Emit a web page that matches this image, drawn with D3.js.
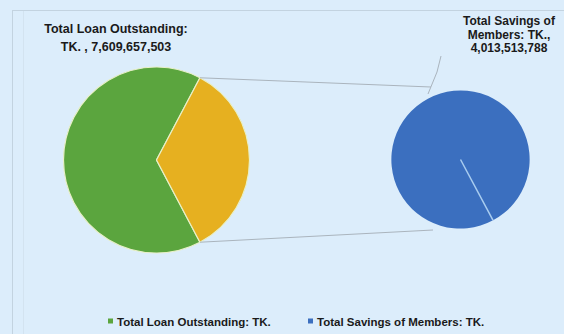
<!DOCTYPE html>
<html>
<head>
<meta charset="utf-8">
<script src="https://cdn.jsdelivr.net/npm/d3@7"></script>
<style>
  body { margin: 0; background: #dcedfb; }
  svg { display: block; }
</style>
</head>
<body>
<div id="chart"></div>
<script>
// data
const categories = [ 'Total Loan Outstanding: TK.', 'Total Savings of Members: TK.' ];
const values = [ 7609657503, 4013513788 ];
const loanLabel = [ 'Total Loan Outstanding:', 'TK. , 7,609,657,503' ];
const savingsLabel = [ 'Total Savings of', 'Members: TK.,', '4,013,513,788' ];
const colors = [ '#5ba53e', '#e6b020', '#3b6fbf' ];

const width = 564, height = 334;
const font = 'Liberation Sans, Arial, sans-serif';

const svg = d3.select( '#chart' ).append( 'svg' )
    .attr( 'width', width )
    .attr( 'height', height );

svg.append( 'rect' )
    .attr( 'width', width ).attr( 'height', height )
    .attr( 'fill', '#dcedfb' );

// chart frame edges
svg.append( 'line' ).attr( 'x1', 12 ).attr( 'y1', 10.5 ).attr( 'x2', width ).attr( 'y2', 10.5 )
    .attr( 'stroke', '#c3d3e0' );
svg.append( 'line' ).attr( 'x1', 12.5 ).attr( 'y1', 10 ).attr( 'x2', 12.5 ).attr( 'y2', height )
    .attr( 'stroke', '#c3d3e0' );
svg.append( 'line' ).attr( 'x1', 23.5 ).attr( 'y1', 11 ).attr( 'x2', 23.5 ).attr( 'y2', height )
    .attr( 'stroke', '#d3e3f0' );

// left pie: loan vs savings, savings slice centred on the right
const total = d3.sum( values );
const savAngle = 2 * Math.PI * values[1] / total;
const leftC = { x: 156.5, y: 160 }, leftR = 93;
const pieLeft = d3.pie().sort( null )
    .startAngle( Math.PI / 2 + savAngle / 2 )
    .endAngle( Math.PI / 2 + savAngle / 2 + 2 * Math.PI );
const leftArcs = pieLeft( values );
const arcLeft = d3.arc().innerRadius( 0 ).outerRadius( leftR );

const gLeft = svg.append( 'g' ).attr( 'transform', 'translate(' + leftC.x + ',' + leftC.y + ')' );
gLeft.selectAll( 'path' )
  .data( leftArcs )
  .enter().append( 'path' )
    .attr( 'd', arcLeft )
    .attr( 'fill', function( d, i ) { return colors[i]; } )
    .attr( 'stroke', '#e8f0c8' )
    .attr( 'stroke-width', 1.2 );

// right pie: savings alone
const rightC = { x: 460.5, y: 159.5 }, rightR = 69;
const pieRight = d3.pie().sort( null ).startAngle( 2.65 ).endAngle( 2.65 + 2 * Math.PI );
const rightArcs = pieRight( [ values[1] ] );
const arcRight = d3.arc().innerRadius( 0 ).outerRadius( rightR );
const gRight = svg.append( 'g' ).attr( 'transform', 'translate(' + rightC.x + ',' + rightC.y + ')' );
gRight.selectAll( 'path' )
  .data( rightArcs )
  .enter().append( 'path' )
    .attr( 'd', arcRight )
    .attr( 'fill', colors[2] );
gRight.selectAll( 'line.sep' )
  .data( rightArcs )
  .enter().append( 'line' )
    .attr( 'class', 'sep' )
    .attr( 'x1', 0 ).attr( 'y1', 0 )
    .attr( 'x2', function( d ) { return rightR * Math.sin( d.startAngle ); } )
    .attr( 'y2', function( d ) { return -rightR * Math.cos( d.startAngle ); } )
    .attr( 'stroke', '#a9cdf0' )
    .attr( 'stroke-width', 1.5 );

// connector lines between the pies
function polar( c, r, a ) { return [ c.x + r * Math.sin( a ), c.y - r * Math.cos( a ) ]; }
const sav = leftArcs[1];
const conn = [
  [ polar( leftC, leftR, sav.startAngle ), [ 431, 87 ] ],
  [ polar( leftC, leftR, sav.endAngle ), [ 433, 230 ] ]
];
svg.selectAll( 'line.conn' )
  .data( conn )
  .enter().append( 'line' )
    .attr( 'class', 'conn' )
    .attr( 'x1', function( d ) { return d[0][0]; } )
    .attr( 'y1', function( d ) { return d[0][1]; } )
    .attr( 'x2', function( d ) { return d[1][0]; } )
    .attr( 'y2', function( d ) { return d[1][1]; } )
    .attr( 'stroke', '#aab4bd' )
    .attr( 'stroke-width', 1 );

// leader for the savings label
svg.append( 'path' )
    .attr( 'd', 'M428,94 L437,72 L441,56' )
    .attr( 'fill', 'none' )
    .attr( 'stroke', '#aab4bd' );

// data labels
svg.append( 'text' )
    .attr( 'x', 116 ).attr( 'y', 33 )
    .attr( 'text-anchor', 'middle' )
    .attr( 'style', 'font-size:12.5px; font-weight:bold; font-family:' + font )
    .attr( 'fill', '#1a1a1a' )
  .selectAll( 'tspan' )
  .data( loanLabel )
  .enter().append( 'tspan' )
    .attr( 'x', 116 )
    .attr( 'dy', function( d, i ) { return i ? 18 : 0; } )
    .text( function( d ) { return d; } );

svg.append( 'text' )
    .attr( 'x', 509 ).attr( 'y', 25 )
    .attr( 'text-anchor', 'middle' )
    .attr( 'style', 'font-size:12px; font-weight:bold; font-family:' + font )
    .attr( 'fill', '#1a1a1a' )
  .selectAll( 'tspan' )
  .data( savingsLabel )
  .enter().append( 'tspan' )
    .attr( 'x', 509 )
    .attr( 'dy', function( d, i ) { return i ? 13.5 : 0; } )
    .text( function( d ) { return d; } );

// legend
const legendX = [ 108, 308 ];
const legend = svg.selectAll( 'g.legend' )
  .data( categories )
  .enter().append( 'g' )
    .attr( 'class', 'legend' )
    .attr( 'transform', function( d, i ) { return 'translate(' + legendX[i] + ',322)'; } );
legend.append( 'rect' )
    .attr( 'x', 0 ).attr( 'y', -3.5 )
    .attr( 'width', 5 ).attr( 'height', 5 )
    .attr( 'fill', function( d, i ) { return colors[ i === 0 ? 0 : 2 ]; } );
legend.append( 'text' )
    .attr( 'x', 9 ).attr( 'y', 4 )
    .attr( 'style', 'font-size:11.5px; font-weight:bold; font-family:' + font )
    .attr( 'fill', '#1a1a1a' )
    .text( function( d ) { return d; } );
</script>
</body>
</html>
